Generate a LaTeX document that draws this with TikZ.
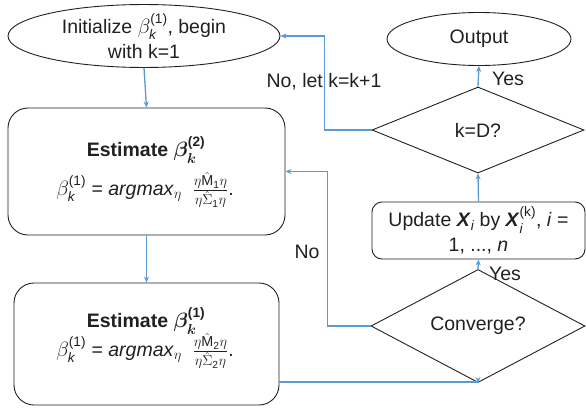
\documentclass[tikz,border=0pt]{standalone}
\usepackage{amsmath,bm}
\usepackage{fontspec}
\setmainfont{Liberation Sans}
\usetikzlibrary{shapes.geometric,arrows.meta,calc}
\definecolor{lineblue}{RGB}{91,155,213}
\definecolor{edge}{RGB}{35,31,32}
\newcommand{\myfrac}[2]{{\fontsize{20.5}{20}\selectfont$\frac{#1}{#2}$}}
\begin{document}
\begin{tikzpicture}[x=1pt,y=-1pt,font=\fontsize{19.5}{24.5}\selectfont,
  shp/.style={draw=edge,line width=0.9pt,align=center,inner sep=0pt,text=edge},
  ell/.style={shp,ellipse},
  rbox/.style={shp,rectangle,rounded corners=20pt},
  dia/.style={shp,diamond},
  conn/.style={draw=lineblue,line width=1.3pt,-{Stealth[length=6pt,width=5pt]}},
  lab/.style={inner sep=0pt,text=edge}]
\useasboundingbox (0,0) rectangle (586,407);
\node[ell,minimum width=272pt,minimum height=54pt] (init) at (144,36)
  {Initialize $\beta_{\textit{k}}^{\text{(1)}}$, begin\\with k=1};
\node[rbox,minimum width=277pt,minimum height=127pt] (box1) at (146.5,171.5) {};
\node[rbox,minimum width=265pt,minimum height=122pt] (box2) at (146.5,344) {};
\node[lab] (e1) at (146,150) {\textbf{Estimate} $\bm{\beta}_{\bm{k}}^{\textbf{(2)}}$};
\node[lab] (f1) at (145,190) {$\beta_{\textit{k}}^{\text{(1)}}$ = \textit{argmax}$_\eta$\ \ \myfrac{\eta\hat{\text{M}}_{\text{1}}\eta}{\eta\hat{\Sigma}_{\text{1}}\eta}.};
\node[lab] (e2) at (146,321) {\textbf{Estimate} $\bm{\beta}_{\bm{k}}^{\textbf{(1)}}$};
\node[lab] (f2) at (145,351) {$\beta_{\textit{k}}^{\text{(1)}}$ = \textit{argmax}$_\eta$\ \ \myfrac{\eta\hat{\text{M}}_{\text{2}}\eta}{\eta\hat{\Sigma}_{\text{2}}\eta}.};
\node[ell,minimum width=184pt,minimum height=53pt] (out) at (479,39) {Output};
\node[dia,minimum width=212pt,minimum height=86pt] (kd) at (478,130) {k=D?};
\node[rbox,rounded corners=10pt,minimum width=213pt,minimum height=57pt] (upd) at (478.5,230.5)
  {Update \textbf{\textit{X}}$_{\textit{i}}$ by \textbf{\textit{X}}$_{\textit{i}}^{\text{(k)}}$, \textit{i} =\\1, ..., \textit{n}};
\node[dia,minimum width=214pt,minimum height=86pt] (conv) at (478,326) {Converge?};
\draw[conn] (init.south) -- (box1.north);
\draw[conn] (box1.south) -- (box2.north);
\draw[conn] (box2.east) ++(0,38) -| (conv.south);
\draw[conn] (conv.north) -- (upd.south);
\draw[conn] (conv.west) -- ++(-43,0) |- (box1.east);
\draw[conn] (upd.north) -- (kd.south);
\draw[conn] (kd.north) -- (out.south);
\draw[conn] (kd.west) -- ++(-47,0) |- (init.east);
\node[lab] (yes1) at (508,79) {Yes};
\node[lab] (yes2) at (505,274) {Yes};
\node[lab] (no1) at (307,252) {No};
\node[lab] (no2) at (324,82) {No, let k=k+1};
\end{tikzpicture}
\end{document}
